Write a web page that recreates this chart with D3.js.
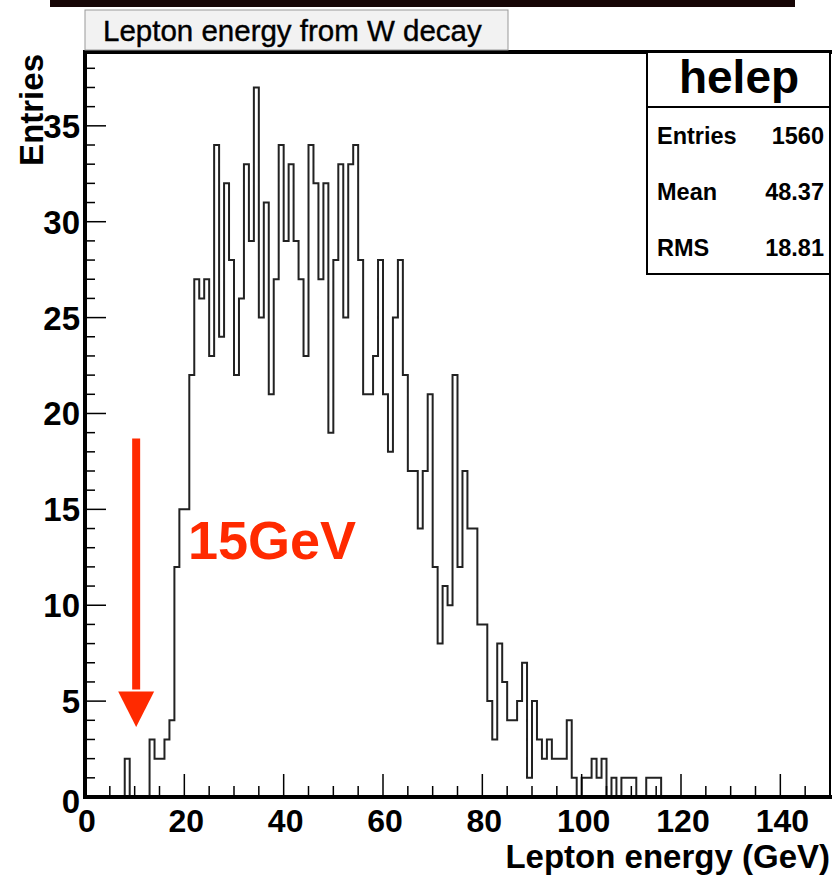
<!DOCTYPE html>
<html>
<head>
<meta charset="utf-8">
<script src="https://cdn.jsdelivr.net/npm/d3@7"></script>
<style>
  body { margin: 0; background: #fff; }
  svg { display: block; font-family: "Liberation Sans", Arial, sans-serif; }
</style>
</head>
<body>
<svg id="chart" width="832" height="876"></svg>
<script>
// histogram "helep": 1 GeV bins starting at 0, bins after the list are empty
const binWidth = 1;
const counts = [
  0, 0, 0, 0, 0, 0, 0, 0, 2, 0,
  0, 0, 0, 3, 2, 2, 3, 4, 12, 15,
  15, 22, 27, 26, 27, 23, 34, 24, 32, 28,
  22, 26, 33, 29, 37, 25, 31, 21, 27, 34,
  29, 33, 29, 27, 23, 34, 32, 27, 32, 19,
  28, 33, 25, 33, 34, 28, 21, 21, 23, 28,
  21, 18, 25, 28, 22, 17, 17, 14, 17, 21,
  12, 8, 11, 10, 22, 12, 17, 14, 14, 9,
  9, 5, 3, 8, 6, 4, 4, 5, 7, 1,
  5, 3, 2, 3, 2, 2, 2, 4, 1, 0,
  1, 1, 2, 1, 2, 0, 1, 0, 1, 1,
  1, 0, 0, 1, 1, 1
];
const xMajorTicks = [0, 20, 40, 60, 80, 100, 120, 140];
const yMajorTicks = [0, 5, 10, 15, 20, 25, 30, 35];
const statLabels = ["Entries", "Mean", "RMS"];
const statValues = ["1560", "48.37", "18.81"];
const histName = "helep";
const title = "Lepton energy from W decay";
const xTitle = "Lepton energy (GeV)";
const yTitle = "Entries";
const note = "15GeV";
const arrowAt = 10.3;          // GeV
const arrowFrom = 18.7, arrowTo = 3.65;  // entries

const padL = 85, padR = 830, padT = 52, padB = 797;
const red = "#ff2a00";

const svg = d3.select("#chart");

const x = d3.scaleLinear().domain([0, 150]).range([padL, padR]);
const y = d3.scaleLinear().domain([0, d3.max(counts) * 1.05]).range([padB, padT]);

// dark bar cut off at the top of the picture
svg.append("rect")
  .attr("x", 50).attr("y", 0).attr("width", 745).attr("height", 7)
  .attr("fill", "#160606");

// histogram outline
const pts = [[0, 0]];
counts.forEach((c, i) => pts.push([i * binWidth, c]));
pts.push([counts.length * binWidth, 0]);
pts.push([150, 0]);

svg.append("path")
  .attr("d", d3.line().x(d => x(d[0])).y(d => y(d[1])).curve(d3.curveStepAfter)(pts))
  .attr("fill", "none")
  .attr("stroke", "#222")
  .attr("stroke-width", 2);

// x axis
const gx = svg.append("g");
gx.selectAll("line.tick")
  .data(d3.range(0, 151, 5))
  .join("line")
  .attr("class", "tick")
  .attr("x1", d => x(d)).attr("x2", d => x(d))
  .attr("y1", padB).attr("y2", d => padB - (d % 20 === 0 ? 23 : 11))
  .attr("stroke", "#000").attr("stroke-width", 1.5);
gx.append("line")
  .attr("x1", padL - 2).attr("x2", padR + 2)
  .attr("y1", padB).attr("y2", padB)
  .attr("stroke", "#000").attr("stroke-width", 4);
gx.selectAll("text")
  .data(xMajorTicks)
  .join("text")
  .attr("x", d => x(d) + 2).attr("y", 832)
  .attr("text-anchor", "middle")
  .attr("font-size", 32).attr("font-weight", "bold")
  .text(d => d);

// y axis
const gy = svg.append("g");
gy.selectAll("line.tick")
  .data(d3.range(0, 39, 1))
  .join("line")
  .attr("class", "tick")
  .attr("x1", padL).attr("x2", d => padL + (d % 5 === 0 ? 21 : 10))
  .attr("y1", d => y(d)).attr("y2", d => y(d))
  .attr("stroke", "#000").attr("stroke-width", 1.5);
gy.append("line")
  .attr("x1", padL).attr("x2", padL)
  .attr("y1", padT - 2).attr("y2", padB + 2)
  .attr("stroke", "#000").attr("stroke-width", 4);
gy.selectAll("text")
  .data(yMajorTicks)
  .join("text")
  .attr("x", 80).attr("y", d => y(d) + (d === 0 ? 16 : 12))
  .attr("text-anchor", "end")
  .attr("font-size", 33).attr("font-weight", "bold")
  .text(d => d);

// axis titles
svg.append("text")
  .attr("x", padR).attr("y", 868)
  .attr("text-anchor", "end")
  .attr("font-size", 33).attr("font-weight", "bold")
  .text(xTitle);
svg.append("text")
  .attr("transform", `translate(43, ${padT + 2}) rotate(-90)`)
  .attr("text-anchor", "end")
  .attr("font-size", 33).attr("font-weight", "bold")
  .text(yTitle);

// frame top and right
svg.append("line")
  .attr("x1", padL).attr("x2", padR + 2).attr("y1", padT).attr("y2", padT)
  .attr("stroke", "#000").attr("stroke-width", 4);
svg.append("line")
  .attr("x1", padR).attr("x2", padR).attr("y1", padT).attr("y2", padB)
  .attr("stroke", "#000").attr("stroke-width", 2);

// title box
svg.append("rect")
  .attr("x", padL).attr("y", 10).attr("width", 423).attr("height", 40)
  .attr("fill", "#f2f2f2").attr("stroke", "#999").attr("stroke-width", 1);
svg.append("text")
  .attr("x", 103).attr("y", 41)
  .attr("font-size", 29.5)
  .attr("stroke", "#000").attr("stroke-width", 0.4)
  .text(title);

// stats box
const sb = svg.append("g");
sb.append("rect")
  .attr("x", 647).attr("y", padT).attr("width", 183).attr("height", 222)
  .attr("fill", "#fff").attr("stroke", "#000").attr("stroke-width", 2);
sb.append("line")
  .attr("x1", 647).attr("x2", 830).attr("y1", 107).attr("y2", 107)
  .attr("stroke", "#000").attr("stroke-width", 2);
sb.append("text")
  .attr("x", 739).attr("y", 93)
  .attr("text-anchor", "middle")
  .attr("font-size", 46).attr("font-weight", "bold")
  .text(histName);
sb.selectAll("text.lab")
  .data(statLabels)
  .join("text")
  .attr("class", "lab")
  .attr("x", 657).attr("y", (d, i) => 144 + i * 56)
  .attr("font-size", 23.5).attr("font-weight", "bold")
  .text(d => d);
sb.selectAll("text.val")
  .data(statValues)
  .join("text")
  .attr("class", "val")
  .attr("x", 824).attr("y", (d, i) => 144 + i * 56)
  .attr("text-anchor", "end")
  .attr("font-size", 23.5).attr("font-weight", "bold")
  .text(d => d);

// red arrow and label
svg.append("line")
  .attr("x1", x(arrowAt)).attr("x2", x(arrowAt))
  .attr("y1", y(arrowFrom)).attr("y2", y(5.6))
  .attr("stroke", red).attr("stroke-width", 8);
svg.append("path")
  .attr("d", `M${x(arrowAt) - 18},${y(5.5)} L${x(arrowAt) + 18},${y(5.5)} L${x(arrowAt)},${y(arrowTo)} Z`)
  .attr("fill", red);
svg.append("text")
  .attr("x", 188).attr("y", 559)
  .attr("fill", red)
  .attr("font-size", 54).attr("font-weight", "bold")
  .text(note);
</script>
</body>
</html>
